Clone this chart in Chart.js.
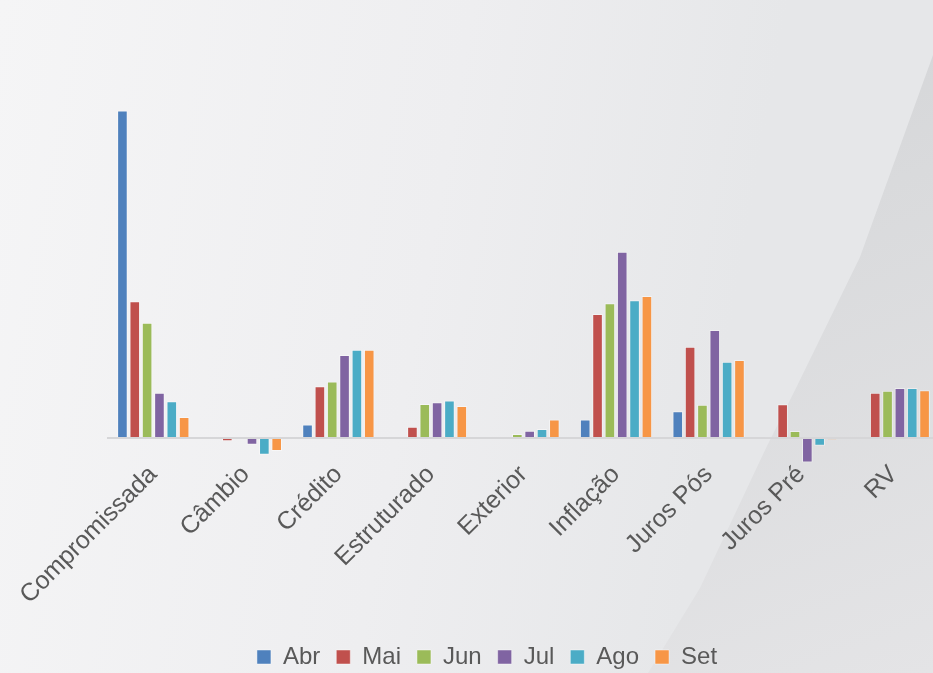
<!DOCTYPE html>
<html>
<head>
<meta charset="utf-8">
<script src="https://cdn.jsdelivr.net/npm/chart.js@4.4.1/dist/chart.umd.min.js"></script>
<style>
  html, body { margin: 0; padding: 0; width: 933px; height: 673px; overflow: hidden; }
  body { background: linear-gradient(100deg, #f5f5f6 0%, #eeeef0 45%, #e6e7e9 75%); position: relative; }
  #shade {
    position: absolute; left: 0; top: 0; width: 933px; height: 673px;
    background: linear-gradient(160deg, #cfd0d3 10%, #d9dadc 50%, #e4e4e6 100%);
    clip-path: polygon(933px 55px, 933px 673px, 648px 673px, 700px 588px, 767px 446px, 797px 386px, 860px 257px);
  }
  #wrap { position: absolute; left: 0; top: 0; width: 974px; height: 673px; }
</style>
</head>
<body>
<div id="shade"></div>
<div id="wrap"><canvas id="barChart" width="974" height="673"></canvas></div>
<script>
const categories = ['Compromissada', 'Câmbio', 'Crédito', 'Estruturado', 'Exterior', 'Inflação', 'Juros Pós', 'Juros Pré', 'RV'];
const months = ['Abr', 'Mai', 'Jun', 'Jul', 'Ago', 'Set'];

const abr = [326.6, 0, 13.3, 0, 0, 18.5, 26.6, 0.8, 0];
const mai = [136.5, -3.4, 51.5, 11.2, 1, 123.6, 91, 33.5, 45];
const jun = [115, 0, 56.2, 33.9, 3.9, 134.3, 33, 6.9, 47.2];
const jul = [45, -6.9, 82.8, 35.6, 7.3, 185.8, 107.7, -24.5, 49.8];
const ago = [36.5, -16.7, 88, 37.3, 9, 137.3, 76, -7.7, 49.8];
const set = [21, -12.9, 88, 31.8, 18.5, 141.6, 77.7, -1.5, 47.6];

const seriesValues = [abr, mai, jun, jul, ago, set];
const colors = ['#4F81BD', '#C0504D', '#9BBB59', '#8064A2', '#4BACC6', '#F79646'];

let StartFunc = () => {
    const ctx = document.getElementById('barChart');

    new Chart(ctx, {
        type: 'bar',
        data: {
            labels: categories,
            datasets: months.map((m, i) => ({
                label: m,
                data: seriesValues[i],
                backgroundColor: colors[i],
                borderColor: 'rgba(255, 255, 255, 0.45)',
                borderWidth: 1,
                categoryPercentage: 0.8,
                barPercentage: 0.86,
                clip: false
            }))
        },
        options: {
            responsive: false,
            devicePixelRatio: 1,
            animation: false,
            layout: { padding: { left: 34, right: 34, top: 20, bottom: -6 } },
            scales: {
                x: {
                    grid: { display: false },
                    border: { display: false },
                    afterFit: s => { s.height = 168; },
                    ticks: {
                        color: '#595959',
                        font: { family: 'Arial, "Liberation Sans"', size: 25 },
                        minRotation: 45,
                        maxRotation: 45,
                        padding: -9
                    }
                },
                y: {
                    min: -23,
                    max: 417,
                    border: { display: false },
                    afterFit: s => { s.width = 73; },
                    ticks: { display: false },
                    grid: {
                        drawTicks: false,
                        lineWidth: 2,
                        color: c => c.tick.value === 0 ? '#d6d6d8' : 'transparent'
                    }
                }
            },
            plugins: {
                legend: {
                    position: 'bottom',
                    labels: {
                        boxWidth: 14,
                        boxHeight: 14,
                        padding: 16,
                        color: '#595959',
                        font: { family: 'Arial, "Liberation Sans"', size: 24 }
                    }
                },
                tooltip: { enabled: false }
            }
        }
    });
};

StartFunc();
</script>
</body>
</html>
